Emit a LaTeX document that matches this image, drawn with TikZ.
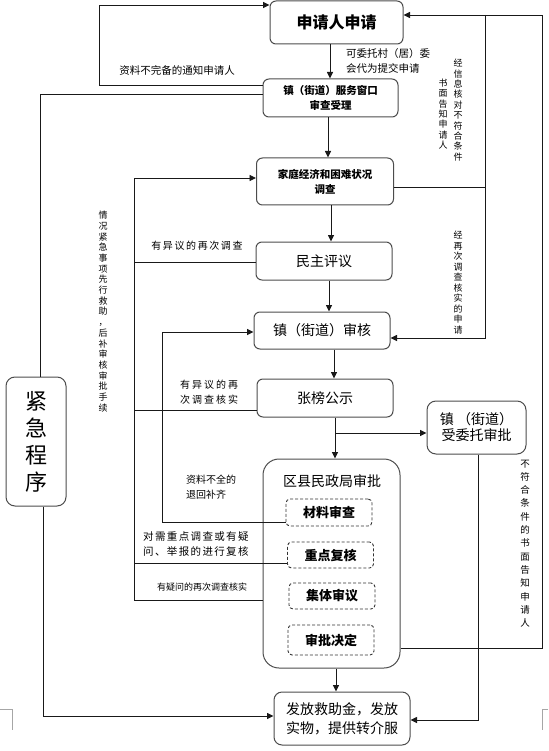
\documentclass[tikz,border=0pt]{standalone}
\usepackage{fontspec}
\setmainfont{Noto Sans CJK SC}
\usetikzlibrary{arrows.meta,calc}
\begin{document}
\begin{tikzpicture}[x=1pt,y=-1pt,
  box/.style={draw=black!70,line width=1pt,rounded corners=6pt,align=center,inner sep=0pt},
  dbox/.style={draw=black!80,line width=0.9pt,dash pattern=on 3pt off 2pt,rounded corners=4pt,inner sep=0pt,minimum width=86pt,font=\fontsize{13}{15}\selectfont\bfseries},
  ln/.style={line width=0.9pt,black!90},
  arr/.style={ln,-{Triangle[length=6.5pt,width=6pt]}},
  lbl/.style={inner sep=0pt,align=left},
  vlbl/.style={inner sep=0pt,align=center},
  cropmark/.style={draw=black!35,line width=0.8pt}
]
\useasboundingbox (0,0) rectangle (548,751);

% helper coordinates
\foreach \v in {5,15,85,94,178,187,262,332,338,410,433,522,563,600,648,716,720}{\coordinate (y\v) at (0,\v);}
\foreach \v in {40,43,99,134,162,328,329,330,331,334,335,336,478,485,542}{\coordinate (x\v) at (\v,0);}

% boxes
\node[box,minimum width=133pt,minimum height=43pt,font=\fontsize{16}{18}\selectfont\bfseries] (app) at (336.5,22.5) {申请人申请};
\node[box,minimum width=135pt,minimum height=38pt,font=\fontsize{10.5}{15}\selectfont\bfseries] (win) at (330.5,98) {镇（街道）服务窗口\\审查受理};
\node[box,minimum width=137pt,minimum height=47pt,font=\fontsize{10.5}{15}\selectfont\bfseries] (inv) at (325,181.5) {家庭经济和困难状况\\调查};
\node[box,minimum width=136pt,minimum height=38pt,font=\fontsize{14}{16}\selectfont] (dem) at (324,261) {民主评议};
\node[box,minimum width=136pt,minimum height=37pt,font=\fontsize{14}{16}\selectfont] (twn) at (322,330.5) {镇（街道）审核};
\node[box,minimum width=136pt,minimum height=38pt,font=\fontsize{14}{16}\selectfont] (pub) at (325,398) {张榜公示};
\node[box,minimum width=99pt,minimum height=53pt,rounded corners=9pt,font=\fontsize{14}{16}\selectfont] (del) at (476.5,427.5) {镇\ （街道）\\受委托审批};
\node[box,minimum width=137pt,minimum height=209pt,rounded corners=16pt] (dist) at (331.5,563.5) {};
\node[inner sep=0pt,font=\fontsize{14}{16}\selectfont] (distT) at (332,481) {区县民政局审批};
\node[dbox,minimum height=27pt] (d1) at (329,512.5) {材料审查};
\node[dbox,minimum height=26pt] (d2) at (330.5,555) {重点复核};
\node[dbox,minimum height=26pt] (d3) at (332,596) {集体审议};
\node[dbox,minimum height=30pt] (d4) at (331,640) {审批决定};
\node[box,minimum width=136pt,minimum height=53pt,rounded corners=8pt,font=\fontsize{14}{19}\selectfont] (pay) at (342,718.5) {发放救助金，发放\\实物，提供转介服};
\node[box,minimum width=60pt,minimum height=129pt,rounded corners=9pt,font=\fontsize{22}{27}\selectfont] (emg) at (36,441.5) {紧\\急\\程\\序};

% main vertical arrows
\draw[arr] (app.south -| x330) -- (win.north -| x330);
\draw[arr] (win.south -| x328) -- (inv.north -| x328);
\draw[arr] (inv.south -| x331) -- (dem.north -| x331);
\draw[arr] (dem.south -| x329) -- (twn.north -| x329);
\draw[arr] (twn.south -| x334) -- (pub.north -| x334);
\draw[arr] (pub.south -| x335) -- (dist.north -| x335);
\draw[arr] (x335 |- y433) -- (del.west |- y433);
\draw[arr] (dist.south -| x336) -- (pay.north -| x336);

% left loops
\draw[arr] (win.west |- y85) -| (x99 |- y5) -- (app.west |- y5);
\draw[ln] (win.west |- y94) -| (emg.north -| x40);
\draw[arr] (emg.south -| x43) |- (pay.west |- y716);
\draw[ln] (dem.west |- y262) -- (x134 |- y262);
\draw[ln] (pub.west |- y410) -- (x134 |- y410);
\draw[ln] (d2.west |- y563) -- (x134 |- y563);
\draw[arr] (dist.west |- y600) -| (x134 |- y178) -- (inv.west |- y178);
\draw[arr] (d1.west |- y522) -| (x162 |- y332) -- (twn.west |- y332);

% right loops
\draw[ln] (inv.east |- y187) -- (x485 |- y187);
\draw[arr] (x485 |- y15) |- (twn.east |- y338);
\draw[arr] (dist.east |- y648) -| (x542 |- y15) -- (app.east |- y15);
\draw[arr] (del.south -| x478) |- (pay.east |- y720);

% labels
\node[lbl,font=\fontsize{10.5}{14}\selectfont] (t1) at (177,70) {资料不完备的通知申请人};
\node[lbl,anchor=west,font=\fontsize{10.5}{15}\selectfont] (t2) at (346,60.5) {可委托村（居）委\\会代为提交申请};
\node[vlbl,font=\fontsize{9}{10.4}\selectfont] (t3) at (458,110) {经\\信\\息\\核\\对\\不\\符\\合\\条\\件};
\node[vlbl,font=\fontsize{9}{10.3}\selectfont] (t4) at (443,114) {书\\面\\告\\知\\申\\请\\人};
\node[vlbl,font=\fontsize{9}{10.5}\selectfont] (t5) at (458,282.5) {经\\再\\次\\调\\查\\核\\实\\的\\申\\请};
\node[lbl,font=\fontsize{10}{14}\selectfont\addfontfeature{LetterSpace=16}] (t6) at (197,246) {有异议的再次调查};
\node[lbl,anchor=west,font=\fontsize{10}{15}\selectfont\addfontfeature{LetterSpace=20}] (t7) at (180,392.5) {有异议的再\\次调查核实};
\node[lbl,anchor=west,font=\fontsize{10}{15}\selectfont] (t8) at (186,487.5) {资料不全的\\退回补齐};
\node[lbl,anchor=west,font=\fontsize{10.5}{14.5}\selectfont\addfontfeature{LetterSpace=13}] (t9) at (143,544) {对需重点调查或有疑\\问、举报的进行复核};
\node[lbl,font=\fontsize{9}{12}\selectfont] (t10) at (202,587) {有疑问的再次调查核实};
\node[vlbl,font=\fontsize{9}{10.7}\selectfont] (t11) at (103,311.5) {情\\况\\紧\\急\\事\\项\\先\\行\\救\\助\\，\\后\\补\\审\\核\\审\\批\\手\\续};
\node[vlbl,font=\fontsize{9.5}{13.3}\selectfont] (t12) at (525,543.5) {不\\符\\合\\条\\件\\的\\书\\面\\告\\知\\申\\请\\人};

% page corner marks
\draw[cropmark] (0,709) -- (12,709) -- (12,730);
\draw[cropmark] (548,709) -- (542,709) -- (542,730);
\end{tikzpicture}
\end{document}
